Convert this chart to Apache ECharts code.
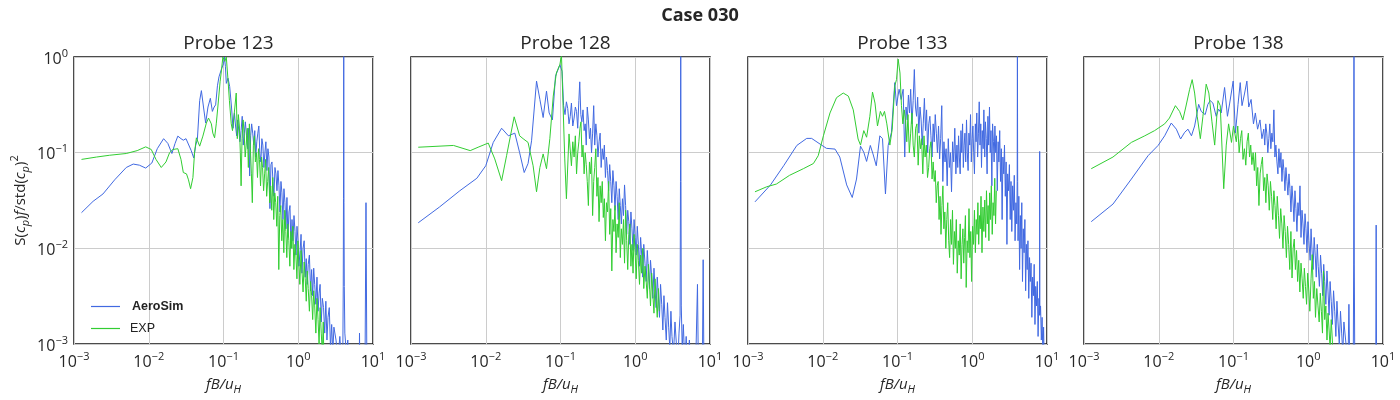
<!DOCTYPE html>
<html>
<head>
<meta charset="utf-8">
<script src="https://cdn.jsdelivr.net/npm/echarts@6/dist/echarts.min.js"></script>
<style>html,body{margin:0;padding:0;background:#fff;}#c{width:1400px;height:400px;}</style>
</head>
<body>
<div id="c"></div>
<script>
// ---------- DATA ----------
const caseTitle = 'Case 030';
const probeNames = ['Probe 123', 'Probe 128', 'Probe 133', 'Probe 138'];
const seriesNames = ['AeroSim', 'EXP'];
const xTickValues = [0.001, 0.01, 0.1, 1, 10];
const yTickValues = [0.001, 0.01, 0.1, 1];

const p123Aero = [[0.00126,0.0236],[0.0018,0.031],[0.00244,0.037],[0.0035,0.052],[0.005,0.07],[0.0062,0.076],[0.0075,0.074],[0.0091,0.069],[0.011,0.078],[0.013,0.11],[0.0158,0.14],[0.018,0.125],[0.0204,0.098],[0.0225,0.125],[0.0245,0.149],[0.027,0.14],[0.029,0.135],[0.0315,0.14],[0.0335,0.14],[0.037,0.105],[0.040,0.088],[0.0425,0.12],[0.0447,0.137],[0.048,0.35],[0.0506,0.445],[0.054,0.3],[0.0577,0.204],[0.062,0.3],[0.0667,0.37],[0.071,0.27],[0.075,0.3],[0.0785,0.316],[0.083,0.5],[0.087,0.62],[0.094,0.75],[0.1,0.85],[0.103,1.0],[0.106,0.8],[0.109,0.53],[0.115,0.6],[0.121,0.49],[0.128,0.3],[0.134,0.18],
[0.14,0.26],[0.145,0.19],[0.15,0.15],[0.155,0.22],[0.16,0.21],[0.166,0.13],[0.172,0.17],[0.178,0.24],[0.184,0.12],[0.19,0.16],[0.196,0.21],[0.203,0.15],[0.21,0.11],[0.217,0.18],[0.224,0.057],[0.231,0.15],[0.238,0.2],[0.246,0.16],[0.254,0.12],[0.262,0.17],[0.27,0.09],[0.279,0.13],[0.288,0.16],[0.297,0.19],[0.306,0.1],[0.316,0.08],[0.326,0.14],[0.336,0.12],[0.347,0.07],[0.358,0.1],[0.369,0.13],[0.381,0.065],[0.393,0.11],[0.405,0.09],[0.418,0.026],[0.431,0.075],[0.445,0.08],[0.459,0.05],[0.473,0.035],[0.488,0.07],[0.503,0.06],[0.519,0.04],[0.535,0.065],[0.552,0.045],[0.569,0.024],[0.587,0.05],[0.605,0.038],[0.624,0.02],[0.644,0.042],[0.664,0.03],[0.685,0.016],[0.706,0.034],[0.728,0.013],[0.751,0.024],[0.775,0.028],[0.8,0.01],[0.825,0.02],[0.85,0.012],[0.877,0.022],[0.905,0.015],[0.933,0.0085],[0.962,0.017],[0.992,0.012],[1.02,0.0065],[1.06,0.0095],[1.09,0.014],[1.12,0.0055],[1.16,0.01],[1.2,0.012],[1.24,0.005],[1.28,0.0078],[1.32,0.0042],[1.36,0.0068],[1.41,0.0085],[1.46,0.0036],[1.51,0.006],[1.56,0.0032],[1.61,0.0062],[1.66,0.0042],[1.72,0.0026],[1.78,0.005],[1.84,0.0022],[1.9,0.0034],[1.96,0.0042],[2.03,0.0017],[2.1,0.003],[2.18,0.0024],[2.26,0.0013],[2.34,0.0028],[2.42,0.0011],[2.5,0.0019],[2.6,0.0024],[2.7,0.0009],[2.8,0.0016],[2.9,0.0008],[3.0,0.0015],[3.2,0.0011],[3.4,0.0007],[3.6,0.0012],[3.8,0.0006],[3.95,0.0009],[4.0,0.004],[4.03,0.033],[4.06,1.2],[4.09,0.03],[4.13,0.004],[4.2,0.0013],[4.4,0.0008],[4.6,0.0011],[4.8,0.0005],[6.0,0.0005],[6.5,0.0004],[6.6,0.0013],[6.7,0.0004],[7.8,0.0004],[8.06,0.03],[8.3,0.0004],[10,0.0004]];

const p123Exp = [[0.00126,0.085],[0.002,0.09],[0.003,0.094],[0.005,0.098],[0.007,0.105],[0.0091,0.115],[0.0108,0.108],[0.0125,0.085],[0.0147,0.07],[0.017,0.08],[0.019,0.1],[0.021,0.108],[0.0245,0.11],[0.027,0.085],[0.029,0.062],[0.032,0.06],[0.034,0.052],[0.0363,0.042],[0.039,0.055],[0.041,0.1],[0.0434,0.143],[0.048,0.117],[0.053,0.149],[0.059,0.204],[0.063,0.23],[0.0688,0.2],[0.072,0.16],[0.076,0.143],[0.08,0.2],[0.084,0.3],[0.09,0.55],[0.094,0.73],[0.098,1.0],[0.104,0.9],[0.109,1.0],[0.115,0.57],[0.12,0.35],[0.127,0.2],[0.132,0.17],[0.137,0.17],
[0.142,0.3],[0.148,0.42],[0.153,0.14],[0.158,0.25],[0.163,0.19],[0.168,0.1],[0.172,0.045],[0.177,0.14],[0.183,0.22],[0.189,0.16],[0.195,0.09],[0.201,0.12],[0.208,0.18],[0.215,0.07],[0.222,0.2],[0.229,0.11],[0.236,0.06],[0.243,0.03],[0.251,0.12],[0.259,0.15],[0.267,0.08],[0.276,0.1],[0.285,0.055],[0.294,0.11],[0.303,0.085],[0.313,0.045],[0.323,0.09],[0.333,0.07],[0.344,0.04],[0.355,0.06],[0.366,0.085],[0.378,0.035],[0.39,0.05],[0.402,0.07],[0.415,0.03],[0.428,0.045],[0.442,0.025],[0.456,0.055],[0.47,0.02],[0.485,0.038],[0.5,0.03],[0.516,0.017],[0.532,0.035],[0.549,0.006],[0.566,0.022],[0.584,0.028],[0.602,0.012],[0.621,0.02],[0.641,0.009],[0.661,0.025],[0.682,0.015],[0.703,0.008],[0.725,0.018],[0.748,0.012],[0.772,0.0065],[0.796,0.015],[0.821,0.01],[0.847,0.017],[0.874,0.006],[0.902,0.011],[0.93,0.0085],[0.96,0.0048],[0.99,0.012],[1.02,0.007],[1.05,0.0042],[1.09,0.0095],[1.12,0.006],[1.16,0.0035],[1.2,0.0072],[1.24,0.0048],[1.28,0.0028],[1.32,0.0058],[1.36,0.0038],[1.41,0.0022],[1.46,0.0045],[1.51,0.0032],[1.56,0.0018],[1.61,0.0036],[1.66,0.0025],[1.72,0.0013],[1.78,0.003],[1.84,0.0018],[1.9,0.001],[1.96,0.0024],[2.03,0.0013],[2.1,0.0008],[2.16,0.0017],[2.2,0.0007]];

const p128Aero = [[0.00125,0.0185],[0.0024,0.027],[0.0045,0.04],[0.0076,0.054],[0.01,0.073],[0.0126,0.128],[0.0163,0.18],[0.0201,0.15],[0.0245,0.16],[0.0284,0.10],[0.0327,0.062],[0.0368,0.077],[0.041,0.133],[0.0478,0.56],[0.053,0.36],[0.0586,0.233],[0.065,0.44],[0.0705,0.26],[0.078,0.22],[0.0857,0.63],[0.098,0.83],[0.105,0.71],[0.11,0.31],
[0.115,0.25],[0.12,0.34],[0.125,0.29],[0.13,0.2],[0.135,0.24],[0.14,0.33],[0.146,0.19],[0.152,0.23],[0.158,0.3],[0.164,0.27],[0.17,0.18],[0.176,0.35],[0.181,0.55],[0.187,0.25],[0.193,0.21],[0.2,0.28],[0.207,0.17],[0.214,0.2],[0.221,0.12],[0.228,0.3],[0.236,0.22],[0.244,0.14],[0.252,0.18],[0.26,0.1],[0.269,0.16],[0.278,0.31],[0.287,0.12],[0.297,0.2],[0.307,0.15],[0.317,0.09],[0.328,0.13],[0.339,0.16],[0.35,0.07],[0.362,0.11],[0.374,0.085],[0.386,0.12],[0.399,0.055],[0.412,0.09],[0.426,0.065],[0.44,0.04],[0.455,0.075],[0.47,0.05],[0.486,0.03],[0.502,0.065],[0.519,0.045],[0.536,0.025],[0.554,0.05],[0.572,0.035],[0.591,0.02],[0.611,0.042],[0.631,0.028],[0.652,0.018],[0.674,0.033],[0.696,0.022],[0.719,0.046],[0.743,0.028],[0.768,0.014],[0.793,0.025],[0.82,0.019],[0.847,0.011],[0.875,0.024],[0.904,0.016],[0.934,0.0095],[0.965,0.02],[0.997,0.013],[1.03,0.0085],[1.065,0.017],[1.1,0.011],[1.14,0.0065],[1.18,0.013],[1.22,0.0085],[1.26,0.005],[1.3,0.011],[1.35,0.007],[1.4,0.0045],[1.45,0.0095],[1.5,0.006],[1.55,0.0038],[1.6,0.0075],[1.66,0.005],[1.72,0.003],[1.78,0.0062],[1.84,0.0038],[1.9,0.0024],[1.97,0.005],[2.04,0.0032],[2.11,0.0019],[2.18,0.0042],[2.26,0.0026],[2.34,0.0014],[2.42,0.0032],[2.5,0.0019],[2.6,0.0011],[2.7,0.0027],[2.8,0.0015],[2.9,0.0009],[3.0,0.0022],[3.1,0.0012],[3.25,0.0008],[3.4,0.0017],[3.55,0.001],[3.7,0.0006],[3.85,0.0013],[3.98,0.002],[4.03,0.05],[4.06,1.2],[4.09,0.05],[4.13,0.0025],[4.25,0.0009],[4.4,0.0016],[4.6,0.0006],[4.8,0.0012],[5.0,0.0006],[5.3,0.0011],[5.6,0.0005],[6.0,0.0009],[6.4,0.0005],[6.8,0.0042],[7.0,0.0005],[7.5,0.0008],[7.9,0.0005],[8.1,0.0076],[8.3,0.0005],[10,0.0004]];

const p128Exp = [[0.00125,0.114],[0.0037,0.119],[0.0062,0.105],[0.0079,0.114],[0.0108,0.126],[0.0132,0.086],[0.0163,0.051],[0.019,0.093],[0.024,0.237],[0.0284,0.15],[0.0316,0.14],[0.0368,0.128],[0.043,0.073],[0.0478,0.039],[0.053,0.07],[0.0586,0.097],[0.065,0.068],[0.072,0.14],[0.08,0.39],[0.088,0.68],[0.098,0.83],[0.103,1.05],[0.108,0.33],[0.114,0.086],[0.12,0.033],[0.13,0.157],[0.14,0.073],
[0.146,0.13],[0.152,0.09],[0.158,0.15],[0.164,0.06],[0.17,0.1],[0.176,0.13],[0.182,0.18],[0.188,0.21],[0.194,0.09],[0.2,0.12],[0.207,0.06],[0.214,0.1],[0.221,0.075],[0.228,0.05],[0.236,0.028],[0.244,0.08],[0.252,0.06],[0.26,0.09],[0.269,0.022],[0.278,0.05],[0.287,0.07],[0.297,0.11],[0.307,0.035],[0.317,0.055],[0.328,0.019],[0.339,0.045],[0.35,0.03],[0.362,0.05],[0.374,0.021],[0.386,0.033],[0.399,0.012],[0.412,0.03],[0.426,0.024],[0.44,0.05],[0.455,0.014],[0.47,0.026],[0.486,0.0058],[0.502,0.02],[0.519,0.015],[0.536,0.028],[0.554,0.009],[0.572,0.018],[0.591,0.013],[0.611,0.03],[0.631,0.008],[0.652,0.016],[0.674,0.011],[0.696,0.02],[0.719,0.007],[0.743,0.025],[0.768,0.012],[0.793,0.006],[0.82,0.014],[0.847,0.018],[0.875,0.0065],[0.904,0.011],[0.934,0.0055],[0.965,0.014],[0.997,0.009],[1.03,0.0048],[1.065,0.011],[1.1,0.0075],[1.14,0.0042],[1.18,0.0085],[1.22,0.0055],[1.26,0.01],[1.3,0.0038],[1.35,0.0065],[1.4,0.0045],[1.45,0.003],[1.5,0.0068],[1.55,0.0042],[1.6,0.0025],[1.66,0.0055],[1.72,0.0033],[1.78,0.0021],[1.84,0.0048],[1.9,0.003],[1.97,0.0019],[2.04,0.0038],[2.1,0.0022]];

const p133Aero = [[0.00124,0.0306],[0.002,0.046],[0.003,0.073],[0.0045,0.119],[0.0061,0.141],[0.0071,0.141],[0.0092,0.123],[0.0112,0.111],[0.0146,0.109],[0.0169,0.09],[0.0209,0.046],[0.0248,0.034],[0.0283,0.053],[0.032,0.117],[0.0354,0.101],[0.0386,0.081],[0.0433,0.119],[0.047,0.097],[0.052,0.073],[0.058,0.15],[0.063,0.14],[0.069,0.037],[0.075,0.119],[0.083,0.163],[0.092,0.54],[0.097,0.31],[0.105,0.46],[0.112,0.36],[0.119,0.46],[0.125,0.09],
[0.13,0.3],[0.135,0.22],[0.14,0.4],[0.145,0.26],[0.15,0.46],[0.156,0.2],[0.162,0.35],[0.168,0.74],[0.174,0.3],[0.18,0.24],[0.186,0.38],[0.193,0.16],[0.2,0.3],[0.207,0.22],[0.214,0.12],[0.221,0.2],[0.229,0.37],[0.237,0.17],[0.245,0.28],[0.253,0.1],[0.262,0.2],[0.271,0.24],[0.28,0.15],[0.29,0.09],[0.3,0.2],[0.31,0.13],[0.32,0.25],[0.331,0.16],[0.342,0.1],[0.354,0.19],[0.366,0.086],[0.378,0.14],[0.391,0.31],[0.404,0.05],[0.418,0.13],[0.432,0.08],[0.447,0.11],[0.462,0.045],[0.478,0.14],[0.494,0.07],[0.511,0.1],[0.528,0.039],[0.546,0.13],[0.565,0.08],[0.584,0.18],[0.604,0.06],[0.624,0.12],[0.64,0.07],[0.656,0.15],[0.672,0.09],[0.689,0.06],[0.706,0.17],[0.724,0.1],[0.742,0.2],[0.76,0.07],[0.779,0.12],[0.798,0.16],[0.818,0.08],[0.838,0.22],[0.859,0.1],[0.88,0.065],[0.902,0.16],[0.925,0.12],[0.948,0.25],[0.972,0.08],[0.996,0.14],[1.02,0.19],[1.045,0.1],[1.07,0.06],[1.1,0.2],[1.125,0.13],[1.15,0.26],[1.18,0.09],[1.21,0.16],[1.24,0.34],[1.27,0.12],[1.3,0.2],[1.33,0.07],[1.36,0.17],[1.4,0.11],[1.43,0.28],[1.47,0.09],[1.5,0.21],[1.54,0.14],[1.58,0.06],[1.62,0.24],[1.66,0.12],[1.7,0.3],[1.74,0.1],[1.78,0.17],[1.83,0.045],[1.87,0.2],[1.92,0.13],[1.96,0.08],[2.01,0.19],[2.06,0.1],[2.11,0.15],[2.16,0.04],[2.22,0.13],[2.27,0.08],[2.33,0.17],[2.39,0.05],[2.45,0.11],[2.51,0.02],[2.57,0.09],[2.64,0.06],[2.7,0.12],[2.77,0.035],[2.84,0.08],[2.91,0.011],[2.98,0.06],[3.06,0.04],[3.14,0.075],[3.22,0.02],[3.3,0.05],[3.38,0.015],[3.47,0.045],[3.56,0.025],[3.65,0.058],[3.74,0.012],[3.84,0.03],[3.94,0.018],[3.99,0.05],[4.02,1.2],[4.05,0.05],[4.1,0.012],[4.2,0.035],[4.3,0.006],[4.4,0.022],[4.5,0.01],[4.6,0.03],[4.7,0.0045],[4.82,0.016],[4.94,0.009],[5.06,0.02],[5.18,0.0036],[5.3,0.011],[5.43,0.006],[5.56,0.012],[5.7,0.003],[5.84,0.008],[5.98,0.0045],[6.12,0.007],[6.27,0.0019],[6.42,0.005],[6.58,0.0032],[6.74,0.0068],[6.9,0.0016],[7.07,0.004],[7.24,0.0025],[7.42,0.0045],[7.6,0.0012],[7.8,0.003],[7.95,0.002],[7.98,0.103],[8.02,0.002],[8.2,0.0025],[8.4,0.0011],[8.6,0.0019],[8.8,0.0008],[9.0,0.0015],[9.2,0.0006],[9.5,0.0005]];

const p133Exp = [[0.00124,0.039],[0.00178,0.044],[0.0024,0.047],[0.0036,0.058],[0.0055,0.068],[0.0075,0.077],[0.0087,0.093],[0.0102,0.15],[0.0125,0.26],[0.0153,0.376],[0.0188,0.42],[0.022,0.39],[0.0256,0.28],[0.0297,0.139],[0.032,0.12],[0.0354,0.17],[0.0386,0.145],[0.0427,0.24],[0.0463,0.43],[0.05,0.33],[0.054,0.19],[0.059,0.27],[0.063,0.24],[0.067,0.27],[0.072,0.2],[0.079,0.12],[0.085,0.176],[0.092,0.5],[0.097,0.58],[0.102,0.95],[0.108,0.68],[0.113,0.31],
[0.118,0.2],[0.123,0.28],[0.128,0.22],[0.133,0.13],[0.138,0.25],[0.144,0.1],[0.15,0.16],[0.156,0.26],[0.162,0.12],[0.168,0.09],[0.175,0.18],[0.182,0.2],[0.189,0.074],[0.196,0.15],[0.203,0.11],[0.21,0.14],[0.218,0.06],[0.226,0.15],[0.234,0.09],[0.243,0.12],[0.252,0.055],[0.261,0.07],[0.27,0.11],[0.28,0.13],[0.29,0.053],[0.3,0.08],[0.31,0.05],[0.32,0.065],[0.33,0.03],[0.34,0.045],[0.35,0.05],[0.36,0.02],[0.371,0.035],[0.382,0.014],[0.393,0.028],[0.405,0.045],[0.417,0.016],[0.43,0.024],[0.443,0.01],[0.456,0.02],[0.47,0.03],[0.484,0.012],[0.498,0.008],[0.513,0.02],[0.528,0.011],[0.544,0.025],[0.56,0.0068],[0.577,0.015],[0.594,0.01],[0.612,0.02],[0.63,0.0055],[0.65,0.012],[0.67,0.0085],[0.69,0.018],[0.71,0.0048],[0.73,0.011],[0.75,0.016],[0.77,0.007],[0.79,0.013],[0.81,0.022],[0.83,0.0039],[0.855,0.012],[0.88,0.009],[0.905,0.026],[0.93,0.008],[0.955,0.015],[0.98,0.0045],[1.01,0.017],[1.04,0.011],[1.07,0.025],[1.1,0.009],[1.13,0.02],[1.16,0.014],[1.19,0.03],[1.22,0.011],[1.25,0.022],[1.28,0.016],[1.31,0.035],[1.35,0.009],[1.39,0.027],[1.43,0.015],[1.47,0.032],[1.51,0.013],[1.55,0.04],[1.59,0.018],[1.63,0.028],[1.67,0.012],[1.71,0.038],[1.75,0.02],[1.8,0.045],[1.85,0.014],[1.9,0.03],[1.95,0.022],[2.0,0.054],[2.05,0.018],[2.1,0.04]];

const p138Aero = [[0.00125,0.019],[0.00244,0.029],[0.0043,0.053],[0.0072,0.093],[0.0098,0.119],[0.012,0.15],[0.0147,0.204],[0.0172,0.176],[0.0196,0.139],[0.0222,0.163],[0.0246,0.176],[0.0274,0.15],[0.0302,0.19],[0.0342,0.32],[0.037,0.27],[0.0418,0.25],[0.0454,0.32],[0.0488,0.35],[0.053,0.33],[0.0587,0.24],[0.063,0.285],[0.0685,0.26],[0.076,0.48],[0.083,0.24],[0.089,0.33],[0.099,0.56],[0.106,0.16],[0.115,0.32],[0.123,0.54],[0.13,0.31],[0.141,0.42],[0.151,0.56],[0.16,0.3],[0.172,0.36],[0.185,0.2],[0.196,0.26],[0.21,0.176],[0.226,0.22],[0.24,0.14],[0.254,0.176],
[0.262,0.12],[0.27,0.2],[0.279,0.16],[0.288,0.1],[0.297,0.14],[0.306,0.2],[0.316,0.11],[0.326,0.16],[0.336,0.13],[0.347,0.28],[0.358,0.09],[0.369,0.12],[0.381,0.08],[0.393,0.06],[0.405,0.11],[0.418,0.07],[0.431,0.1],[0.445,0.05],[0.459,0.085],[0.473,0.065],[0.488,0.04],[0.503,0.07],[0.519,0.05],[0.535,0.036],[0.552,0.06],[0.569,0.042],[0.587,0.024],[0.605,0.045],[0.624,0.032],[0.644,0.019],[0.664,0.04],[0.685,0.026],[0.706,0.015],[0.728,0.03],[0.751,0.022],[0.775,0.045],[0.8,0.013],[0.825,0.025],[0.85,0.018],[0.877,0.011],[0.905,0.023],[0.933,0.016],[0.962,0.009],[0.992,0.019],[1.02,0.012],[1.06,0.0075],[1.09,0.016],[1.12,0.01],[1.16,0.006],[1.2,0.013],[1.24,0.0085],[1.28,0.005],[1.32,0.011],[1.36,0.0065],[1.41,0.004],[1.46,0.0085],[1.51,0.0055],[1.56,0.0032],[1.61,0.0068],[1.66,0.0045],[1.72,0.0026],[1.78,0.0058],[1.84,0.0035],[1.9,0.002],[1.96,0.0045],[2.03,0.0028],[2.1,0.0016],[2.18,0.0036],[2.26,0.0022],[2.34,0.0012],[2.42,0.0028],[2.5,0.0017],[2.6,0.001],[2.7,0.0022],[2.8,0.0013],[2.9,0.0008],[3.0,0.0017],[3.2,0.001],[3.4,0.0006],[3.5,0.0026],[3.6,0.0005],[3.8,0.0008],[4.0,0.0006],[4.05,0.0067],[4.09,1.2],[4.13,0.0067],[4.2,0.0005],[8.0,0.0005],[8.1,0.0175],[8.2,0.0005],[10,0.0004]];

const p138Exp = [[0.00125,0.068],[0.00244,0.09],[0.0043,0.128],[0.0065,0.15],[0.0088,0.17],[0.012,0.2],[0.0139,0.23],[0.0167,0.31],[0.019,0.27],[0.021,0.22],[0.023,0.3],[0.0259,0.46],[0.028,0.58],[0.0302,0.42],[0.0327,0.24],[0.036,0.14],[0.039,0.24],[0.0431,0.52],[0.0468,0.42],[0.0515,0.21],[0.056,0.12],[0.062,0.35],[0.0665,0.31],[0.074,0.042],[0.08,0.12],[0.086,0.2],[0.094,0.128],[0.1,0.19],[0.109,0.13],
[0.114,0.19],[0.119,0.1],[0.124,0.14],[0.129,0.17],[0.134,0.085],[0.14,0.11],[0.146,0.074],[0.152,0.13],[0.158,0.16],[0.164,0.09],[0.17,0.12],[0.176,0.075],[0.183,0.1],[0.19,0.065],[0.197,0.1],[0.204,0.045],[0.211,0.07],[0.219,0.028],[0.227,0.06],[0.235,0.075],[0.244,0.09],[0.253,0.04],[0.262,0.055],[0.271,0.03],[0.281,0.06],[0.291,0.045],[0.301,0.025],[0.312,0.05],[0.323,0.035],[0.335,0.02],[0.347,0.04],[0.359,0.028],[0.372,0.016],[0.385,0.035],[0.399,0.022],[0.413,0.0127],[0.428,0.026],[0.443,0.018],[0.459,0.01],[0.475,0.022],[0.492,0.015],[0.51,0.008],[0.528,0.017],[0.547,0.011],[0.566,0.006],[0.586,0.015],[0.607,0.0049],[0.628,0.01],[0.65,0.0125],[0.673,0.006],[0.697,0.0095],[0.721,0.0045],[0.746,0.0075],[0.772,0.0035],[0.8,0.007],[0.828,0.0048],[0.857,0.003],[0.887,0.0062],[0.918,0.004],[0.95,0.0026],[0.983,0.0055],[1.02,0.0035],[1.05,0.0022],[1.09,0.0048],[1.13,0.0086],[1.17,0.003],[1.21,0.0045],[1.25,0.0019],[1.3,0.0038],[1.35,0.0025],[1.4,0.0017],[1.45,0.0034],[1.5,0.0022],[1.55,0.0013],[1.6,0.0058],[1.66,0.0018],[1.72,0.0025],[1.78,0.0011],[1.84,0.0021],[1.9,0.0014],[1.96,0.0009],[2.03,0.0018],[2.1,0.0011],[2.15,0.0007]];

const aeroData = [p123Aero, p128Aero, p133Aero, p138Aero];
const expData = [p123Exp, p128Exp, p133Exp, p138Exp];

// ---------- CHART ----------
const BLUE = '#4169E1', GREEN = '#32CD32', TXT = '#262626';
const FONT = '"Open Sans", "DejaVu Sans", sans-serif';
const gridLeft = [74, 411, 748, 1084];
const GW = 299, GT = 57, GH = 290;

function supLabel(v) {
  const e = Math.round(Math.log10(v));
  return '{b|10}{s|' + (e < 0 ? '\u2212' + (-e) : String(e)) + '}';
}
const tickRich = {
  b: { fontSize: 16, fontFamily: FONT, color: TXT, verticalAlign: 'bottom', lineHeight: 20 },
  s: { fontSize: 11, fontFamily: FONT, color: TXT, verticalAlign: 'bottom', lineHeight: 20, padding: [0, 0, 8, 0] }
};

const grids = [], xAxes = [], yAxes = [], series = [], titles = [];
titles.push({ text: caseTitle, left: 'center', top: 2,
  textStyle: { fontFamily: FONT, fontWeight: 'bold', fontSize: 18, color: TXT } });

for (let i = 0; i < 4; i++) {
  grids.push({ left: gridLeft[i], top: GT, width: GW, height: GH, show: true,
    borderColor: '#111', borderWidth: 1.5, backgroundColor: 'transparent' });
  titles.push({ text: probeNames[i], left: gridLeft[i] + GW / 2, top: 29, textAlign: 'center',
    textStyle: { fontFamily: FONT, fontWeight: 'normal', fontSize: 19, color: TXT } });
  xAxes.push({
    gridIndex: i, type: 'log', logBase: 10, min: xTickValues[0], max: xTickValues[xTickValues.length - 1],
    axisLine: { show: false }, axisTick: { show: false },
    splitLine: { show: true, lineStyle: { color: '#cccccc', width: 1 } },
    axisLabel: { show: true, margin: 6, formatter: supLabel, rich: tickRich },
    name: '{i|fB/u}{sub|H}', nameLocation: 'middle', nameGap: 28,
    nameTextStyle: { rich: {
      i: { fontSize: 15, fontStyle: 'italic', fontFamily: FONT, color: TXT, verticalAlign: 'bottom', lineHeight: 20 },
      sub: { fontSize: 11, fontStyle: 'italic', fontFamily: FONT, color: TXT, verticalAlign: 'bottom', lineHeight: 20, padding: [0, 0, -3, 0] }
    } }
  });
  yAxes.push({
    gridIndex: i, type: 'log', logBase: 10, min: yTickValues[0], max: yTickValues[yTickValues.length - 1],
    axisLine: { show: false }, axisTick: { show: false },
    splitLine: { show: true, lineStyle: { color: '#cccccc', width: 1 } },
    axisLabel: { show: i === 0, margin: 6, formatter: supLabel, rich: tickRich },
    name: i === 0 ? '{n|S(}{i|c}{sb|p}{n|)}{i|f}{n|/std(}{i|c}{sb|p}{n|)}{sp|2}' : '',
    nameLocation: 'middle', nameRotate: 90, nameGap: 46,
    nameTextStyle: { rich: {
      n: { fontSize: 15, fontFamily: FONT, color: TXT, verticalAlign: 'bottom', lineHeight: 20 },
      i: { fontSize: 15, fontStyle: 'italic', fontFamily: FONT, color: TXT, verticalAlign: 'bottom', lineHeight: 20 },
      sb: { fontSize: 11, fontStyle: 'italic', fontFamily: FONT, color: TXT, verticalAlign: 'bottom', lineHeight: 20, padding: [0, 0, -3, 0] },
      sp: { fontSize: 11, fontFamily: FONT, color: TXT, verticalAlign: 'bottom', lineHeight: 20, padding: [0, 0, 8, 0] }
    } }
  });
  series.push({ name: seriesNames[0], type: 'line', xAxisIndex: i, yAxisIndex: i, data: aeroData[i],
    showSymbol: false, symbol: 'none', clip: true, lineStyle: { color: BLUE, width: 1 }, itemStyle: { color: BLUE } });
  series.push({ name: seriesNames[1], type: 'line', xAxisIndex: i, yAxisIndex: i, data: expData[i],
    showSymbol: false, symbol: 'none', clip: true, lineStyle: { color: GREEN, width: 1 }, itemStyle: { color: GREEN } });
}

const chart = echarts.init(document.getElementById('c'), null, { renderer: 'canvas' });
chart.setOption({
  animation: false,
  backgroundColor: '#ffffff',
  title: titles,
  legend: {
    data: seriesNames, orient: 'vertical', left: 86, top: 295,
    icon: 'rect', itemWidth: 29, itemHeight: 1.2, itemGap: 9,
    formatter: function (n) { return n === 'AeroSim' ? '{b|' + n + '}' : '{n|' + n + '}'; },
    textStyle: { rich: {
      b: { fontFamily: '"Liberation Sans", Arial, sans-serif', fontSize: 12.5, fontWeight: 'bold', color: '#222', padding: [0, 0, 0, 7] },
      n: { fontFamily: '"Liberation Sans", Arial, sans-serif', fontSize: 12.5, color: '#222', padding: [0, 0, 0, 5] }
    } }
  },
  grid: grids, xAxis: xAxes, yAxis: yAxes, series: series
});
</script>
</body>
</html>
